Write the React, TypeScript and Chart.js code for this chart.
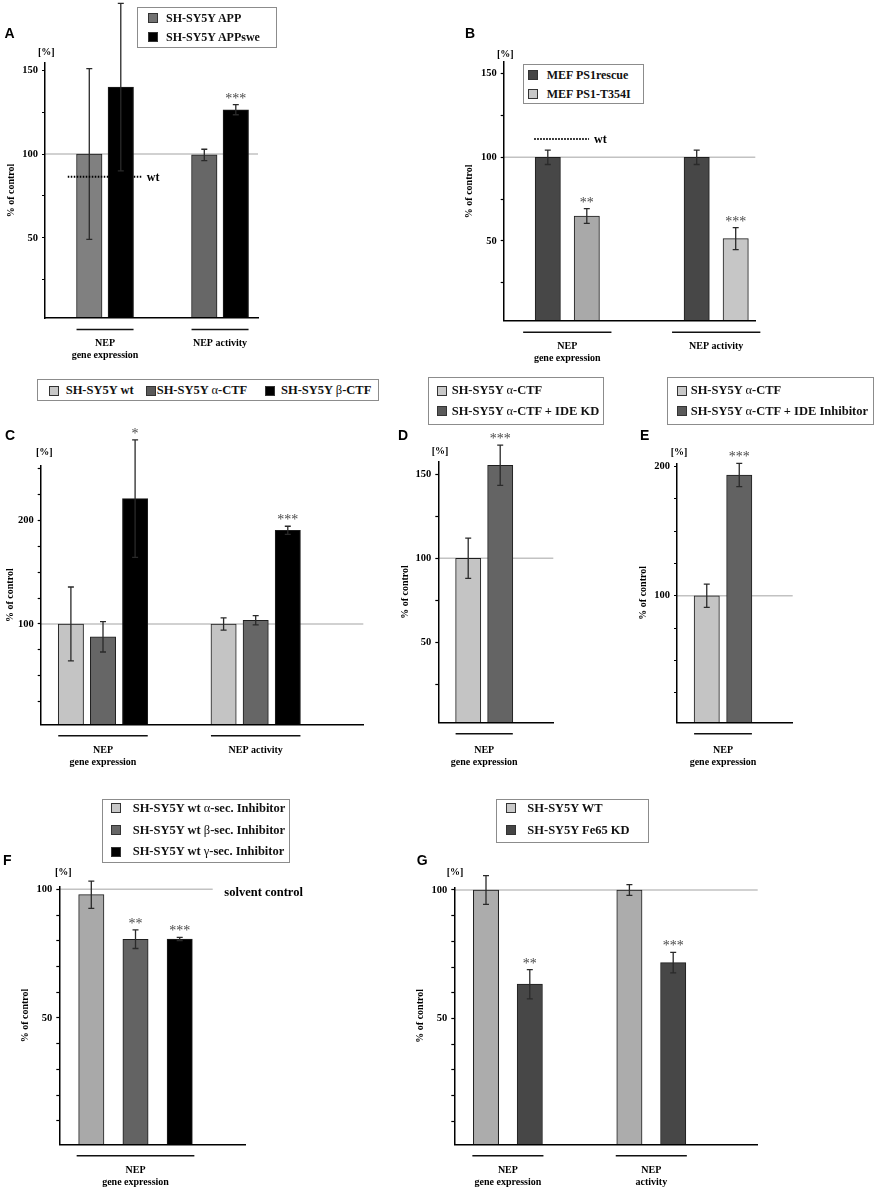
import React, { useEffect, useRef } from "react";
import { Chart, registerables } from "chart.js";
Chart.register(...registerables);

const SERIF = '"Liberation Serif", "Times New Roman", serif';
const SANS = '"Liberation Sans", Arial, sans-serif';
Chart.defaults.font.family = SERIF;

// ---------------- DATA ----------------
// Panel A
const A_CATEGORIES = [["NEP", "gene expression"], ["NEP activity"]];
const A_SERIES = ["SH-SY5Y APP", "SH-SY5Y APPswe"];
const A_APP = [100, 99.5];
const A_APP_ERR = [51, 3.4];
const A_APP_STARS = ["", ""];
const A_APPSWE = [140, 126.5];
const A_APPSWE_ERR = [50, 3];
const A_APPSWE_STARS = ["", "***"];
const A_Y_TICKS = [25, 50, 75, 100, 125, 150];
const A_Y_LABELS = [50, 100, 150];
const A_WT = 86.5;

// Panel B
const B_CATEGORIES = [["NEP", "gene expression"], ["NEP activity"]];
const B_SERIES = ["MEF PS1rescue", "MEF PS1-T354I"];
const B_RESCUE = [100, 100];
const B_RESCUE_ERR = [4.3, 4.3];
const B_RESCUE_STARS = ["", ""];
const B_T354I = [64.9, 51.4];
const B_T354I_ERR = [4.4, 6.6];
const B_T354I_STARS = ["**", "***"];
const B_Y_TICKS = [25, 50, 75, 100, 125, 150];
const B_Y_LABELS = [50, 100, 150];
const B_WT = 110.9;

// Panel C
const C_CATEGORIES = [["NEP", "gene expression"], ["NEP activity"]];
const C_SERIES = ["SH-SY5Y wt", "SH-SY5Y α-CTF", "SH-SY5Y β-CTF"];
const C_WT = [100, 100];
const C_WT_ERR = [35.8, 6];
const C_ACTF = [87.6, 103.6];
const C_ACTF_ERR = [14.7, 4.4];
const C_BCTF = [221.3, 190.7];
const C_BCTF_ERR = [56.8, 3.9];
const C_BCTF_STARS = ["*", "***"];
const C_Y_TICKS = [25, 50, 75, 100, 125, 150, 175, 200, 225, 250];
const C_Y_LABELS = [100, 200];

// Panel D
const D_CATEGORIES = [["NEP", "gene expression"]];
const D_SERIES = ["SH-SY5Y α-CTF", "SH-SY5Y α-CTF + IDE KD"];
const D_ACTF = [100];
const D_ACTF_ERR = [12];
const D_IDEKD = [155.4];
const D_IDEKD_ERR = [12];
const D_IDEKD_STARS = ["***"];
const D_Y_TICKS = [25, 50, 75, 100, 125, 150];
const D_Y_LABELS = [50, 100, 150];

// Panel E
const E_CATEGORIES = [["NEP", "gene expression"]];
const E_SERIES = ["SH-SY5Y α-CTF", "SH-SY5Y α-CTF + IDE Inhibitor"];
const E_ACTF = [100];
const E_ACTF_ERR = [9];
const E_IDEINH = [193.3];
const E_IDEINH_ERR = [9];
const E_IDEINH_STARS = ["***"];
const E_Y_TICKS = [25, 50, 75, 100, 125, 150, 175, 200];
const E_Y_LABELS = [100, 200];

// Panel F
const F_CATEGORIES = [["NEP", "gene expression"]];
const F_SERIES = ["SH-SY5Y wt α-sec. Inhibitor", "SH-SY5Y wt β-sec. Inhibitor", "SH-SY5Y wt γ-sec. Inhibitor"];
const F_ALPHA = [97.9];
const F_ALPHA_ERR = [5.3];
const F_BETA = [80.6];
const F_BETA_ERR = [3.6];
const F_BETA_STARS = ["**"];
const F_GAMMA = [80.7];
const F_GAMMA_ERR = [0.6];
const F_GAMMA_STARS = ["***"];
const F_Y_TICKS = [10, 20, 30, 40, 50, 60, 70, 80, 90, 100];
const F_Y_LABELS = [50, 100];
const F_REF_LABEL = "solvent control";

// Panel G
const G_CATEGORIES = [["NEP", "gene expression"], ["NEP", "activity"]];
const G_SERIES = ["SH-SY5Y WT", "SH-SY5Y Fe65 KD"];
const G_WT = [100, 100];
const G_WT_ERR = [5.6, 2.1];
const G_KD = [63.3, 71.7];
const G_KD_ERR = [5.7, 4];
const G_KD_STARS = ["**", "***"];
const G_Y_TICKS = [10, 20, 30, 40, 50, 60, 70, 80, 90, 100];
const G_Y_LABELS = [50, 100];

const REF_VALUE = 100;

// ---------------- TYPES ----------------
type Series = { label: string; values: number[]; errors: number[]; stars?: string[]; colors: string[]; swatch: string };
type LegendItem = { sx: number; sy: number; tx: number };
type Panel = {
  key: string;
  letter: string;
  letterPos: [number, number];
  pctPos: [number, number];
  categories: string[][];
  series: Series[];
  yTicks: number[];
  yLabels: number[];
  canvas: [number, number, number, number];
  area: { l: number; t: number; r: number; b: number };
  yRange: [number, number];
  xRange: [number, number];
  chunk: number;
  bar: number;
  titlePad: number;
  labelPad: number;
  ulPad: number;
  refEnd?: number;
  refLabel?: string;
  wt?: { value: number; x0: number; x1: number };
  legend: { box: [number, number, number, number]; font: number; items: LegendItem[] };
};

const mk = (label: string, values: number[], errors: number[], colors: string[], swatch: string, stars?: string[]): Series => ({
  label, values, errors, colors, swatch, stars,
});

// ---------------- PANELS (layout + styles) ----------------
const PANELS: Panel[] = [
  {
    key: "A", letter: "A", letterPos: [4.5, 26], pctPos: [38, 47],
    categories: A_CATEGORIES,
    series: [
      mk(A_SERIES[0], A_APP, A_APP_ERR, ["#808080", "#676767"], "#727272", A_APP_STARS),
      mk(A_SERIES[1], A_APPSWE, A_APPSWE_ERR, ["#000000", "#000000"], "#000000", A_APPSWE_STARS),
    ],
    yTicks: A_Y_TICKS, yLabels: A_Y_LABELS,
    canvas: [0, 0, 290, 370], area: { l: 45, t: 63, r: 258, b: 318 },
    yRange: [2.1, 154.4], xRange: [0.478, 2.330],
    chunk: 31.5, bar: 25.5, titlePad: 5, labelPad: 19.3, ulPad: 0,
    wt: { value: A_WT, x0: 0.676, x1: 1.319 },
    legend: { box: [137, 7, 140, 41], font: 12, items: [{ sx: 148, sy: 18.3, tx: 166 }, { sx: 148, sy: 37.3, tx: 166 }] },
  },
  {
    key: "B", letter: "B", letterPos: [465, 26], pctPos: [497, 49],
    categories: B_CATEGORIES,
    series: [
      mk(B_SERIES[0], B_RESCUE, B_RESCUE_ERR, ["#474747", "#474747"], "#454545", B_RESCUE_STARS),
      mk(B_SERIES[1], B_T354I, B_T354I_ERR, ["#a9a9a9", "#c6c6c6"], "#c8c8c8", B_T354I_STARS),
    ],
    yTicks: B_Y_TICKS, yLabels: B_Y_LABELS,
    canvas: [455, 0, 330, 375], area: { l: 503.7, t: 62, r: 755.3, b: 320.7 },
    yRange: [2.4, 156.9], xRange: [0.5729, 2.2626],
    chunk: 39, bar: 25.3, titlePad: 8.5, labelPad: 20, ulPad: 12,
    wt: { value: B_WT, x0: 0.778, x1: 1.146 },
    legend: { box: [523.3, 64.3, 121, 40], font: 12, items: [{ sx: 528.3, sy: 75, tx: 546.7 }, { sx: 528.3, sy: 94, tx: 546.7 }] },
  },
  {
    key: "C", letter: "C", letterPos: [5, 428], pctPos: [36, 447],
    categories: C_CATEGORIES,
    series: [
      mk(C_SERIES[0], C_WT, C_WT_ERR, ["#c4c4c4", "#c4c4c4"], "#c8c8c8"),
      mk(C_SERIES[1], C_ACTF, C_ACTF_ERR, ["#666666", "#666666"], "#5a5a5a"),
      mk(C_SERIES[2], C_BCTF, C_BCTF_ERR, ["#000000", "#000000"], "#000000", C_BCTF_STARS),
    ],
    yTicks: C_Y_TICKS, yLabels: C_Y_LABELS,
    canvas: [0, 425, 390, 345], area: { l: 40.7, t: 466, r: 363.3, b: 724.3 },
    yRange: [2.9, 252.9], xRange: [0.592, 2.7047],
    chunk: 32.1, bar: 25.3, titlePad: 4, labelPad: 20.4, ulPad: 0,
    legend: { box: [37.3, 379, 342, 22], font: 12.5, items: [{ sx: 49.3, sy: 390.5, tx: 65.7 }, { sx: 145.7, sy: 390.5, tx: 156.7 }, { sx: 265, sy: 390.5, tx: 281 }] },
  },
  {
    key: "D", letter: "D", letterPos: [398, 428], pctPos: [431.7, 446.3],
    categories: D_CATEGORIES,
    series: [
      mk(D_SERIES[0], D_ACTF, D_ACTF_ERR, ["#c4c4c4"], "#c8c8c8"),
      mk(D_SERIES[1], D_IDEKD, D_IDEKD_ERR, ["#646464"], "#5a5a5a", D_IDEKD_STARS),
    ],
    yTicks: D_Y_TICKS, yLabels: D_Y_LABELS,
    canvas: [392, 426, 180, 344], area: { l: 438.3, t: 461.7, r: 553.3, b: 722.3 },
    yRange: [2.4, 157.5], xRange: [0, 2.505],
    chunk: 32, bar: 25.2, titlePad: 7, labelPad: 21.7, ulPad: 0,
    legend: { box: [428.3, 377, 176, 48], font: 12.5, items: [{ sx: 437.3, sy: 390.7, tx: 451.7 }, { sx: 437.3, sy: 411, tx: 451.7 }] },
  },
  {
    key: "E", letter: "E", letterPos: [640, 428], pctPos: [670.7, 446.5],
    categories: E_CATEGORIES,
    series: [
      mk(E_SERIES[0], E_ACTF, E_ACTF_ERR, ["#c4c4c4"], "#c8c8c8"),
      mk(E_SERIES[1], E_IDEINH, E_IDEINH_ERR, ["#626262"], "#5a5a5a", E_IDEINH_STARS),
    ],
    yTicks: E_Y_TICKS, yLabels: E_Y_LABELS,
    canvas: [630, 426, 190, 344], area: { l: 677, t: 463.3, r: 792.7, b: 722.3 },
    yRange: [2.1, 202.4], xRange: [0, 2.515],
    chunk: 32.5, bar: 25.3, titlePad: 7.3, labelPad: 21.7, ulPad: 0,
    legend: { box: [667.3, 377, 206.7, 48], font: 12.5, items: [{ sx: 676.7, sy: 390.7, tx: 690.7 }, { sx: 676.7, sy: 411, tx: 690.7 }] },
  },
  {
    key: "F", letter: "F", letterPos: [3, 853], pctPos: [55, 867],
    categories: F_CATEGORIES,
    series: [
      mk(F_SERIES[0], F_ALPHA, F_ALPHA_ERR, ["#a9a9a9"], "#c8c8c8"),
      mk(F_SERIES[1], F_BETA, F_BETA_ERR, ["#636363"], "#666666", F_BETA_STARS),
      mk(F_SERIES[2], F_GAMMA, F_GAMMA_ERR, ["#000000"], "#000000", F_GAMMA_STARS),
    ],
    yTicks: F_Y_TICKS, yLabels: F_Y_LABELS,
    canvas: [0, 866, 320, 325], area: { l: 59.3, t: 886.7, r: 245.7, b: 1144.3 },
    yRange: [0.93, 101.0], xRange: [0, 2.446],
    chunk: 44.2, bar: 25.3, titlePad: 19, labelPad: 20.4, ulPad: 2,
    refEnd: 2.013, refLabel: F_REF_LABEL,
    legend: { box: [101.7, 799, 188.3, 64], font: 12.5, items: [{ sx: 111, sy: 808.3, tx: 132.7 }, { sx: 111, sy: 830, tx: 132.7 }, { sx: 111, sy: 851.7, tx: 132.7 }] },
  },
  {
    key: "G", letter: "G", letterPos: [416.7, 853], pctPos: [446.7, 867],
    categories: G_CATEGORIES,
    series: [
      mk(G_SERIES[0], G_WT, G_WT_ERR, ["#acacac", "#acacac"], "#c8c8c8"),
      mk(G_SERIES[1], G_KD, G_KD_ERR, ["#474747", "#474747"], "#454545", G_KD_STARS),
    ],
    yTicks: G_Y_TICKS, yLabels: G_Y_LABELS,
    canvas: [405, 866, 380, 325], area: { l: 454.3, t: 887.3, r: 757.7, b: 1144.3 },
    yRange: [0.93, 101.05], xRange: [0.6262, 2.742],
    chunk: 43.8, bar: 25.3, titlePad: 9.7, labelPad: 20.4, ulPad: 1,
    legend: { box: [495.7, 799, 153.6, 44], font: 12.5, items: [{ sx: 505.7, sy: 808.3, tx: 527.3 }, { sx: 505.7, sy: 830, tx: 527.3 }] },
  },
];

// ---------------- PLUGIN ----------------
function decorPlugin(p: Panel) {
  return {
    id: "decor" + p.key,
    beforeDatasetsDraw(chart: any) {
      const { ctx, chartArea, scales } = chart;
      const y = scales.y.getPixelForValue(REF_VALUE);
      const xEnd = p.refEnd != null ? scales.x.getPixelForValue(p.refEnd) : chartArea.right;
      ctx.save();
      ctx.strokeStyle = "#c2c2c2";
      ctx.lineWidth = 1.5;
      ctx.beginPath();
      ctx.moveTo(chartArea.left, y);
      ctx.lineTo(xEnd, y);
      ctx.stroke();
      if (p.refLabel) {
        ctx.fillStyle = "#000";
        ctx.font = `bold 12.5px ${SERIF}`;
        ctx.textBaseline = "middle";
        ctx.textAlign = "left";
        ctx.fillText(p.refLabel, xEnd + 11.6, y + 3);
      }
      ctx.restore();
    },
    afterDatasetsDraw(chart: any) {
      const { ctx, chartArea, scales } = chart;
      const ys = scales.y;
      ctx.save();
      // error bars and significance stars
      p.series.forEach((s, i) => {
        const meta = chart.getDatasetMeta(i);
        meta.data.forEach((el: any, j: number) => {
          const v = s.values[j];
          const e = s.errors[j];
          const x = el.x;
          const yt = ys.getPixelForValue(v + e);
          const yb = ys.getPixelForValue(v - e);
          ctx.strokeStyle = "#2a2a2a";
          ctx.lineWidth = 1.3;
          ctx.beginPath();
          ctx.moveTo(x, yt);
          ctx.lineTo(x, yb);
          ctx.moveTo(x - 3, yt);
          ctx.lineTo(x + 3, yt);
          ctx.moveTo(x - 3, yb);
          ctx.lineTo(x + 3, yb);
          ctx.stroke();
          const star = s.stars ? s.stars[j] : "";
          if (star) {
            ctx.fillStyle = "#4a4a4a";
            ctx.font = `14px ${SERIF}`;
            ctx.textAlign = "center";
            ctx.textBaseline = "alphabetic";
            ctx.fillText(star, x, yt - 2);
          }
        });
      });
      // group underlines
      p.categories.forEach((_, j) => {
        let lo = Infinity;
        let hi = -Infinity;
        p.series.forEach((__, i) => {
          const el: any = chart.getDatasetMeta(i).data[j];
          if (!el) return;
          lo = Math.min(lo, el.x - el.width / 2);
          hi = Math.max(hi, el.x + el.width / 2);
        });
        const yy = chartArea.bottom + 11.5;
        ctx.strokeStyle = "#111";
        ctx.lineWidth = 1.5;
        ctx.beginPath();
        ctx.moveTo(lo - p.ulPad, yy);
        ctx.lineTo(hi + p.ulPad, yy);
        ctx.stroke();
      });
      // wt dotted line
      if (p.wt) {
        const yy = ys.getPixelForValue(p.wt.value);
        const x0 = scales.x.getPixelForValue(p.wt.x0);
        const x1 = scales.x.getPixelForValue(p.wt.x1);
        ctx.strokeStyle = "#000";
        ctx.lineWidth = 2;
        ctx.setLineDash([1.5, 1.5]);
        ctx.beginPath();
        ctx.moveTo(x0, yy);
        ctx.lineTo(x1, yy);
        ctx.stroke();
        ctx.setLineDash([]);
        ctx.fillStyle = "#000";
        ctx.font = `bold 12px ${SERIF}`;
        ctx.textAlign = "left";
        ctx.textBaseline = "middle";
        ctx.fillText("wt", x1 + 5, yy + 1);
      }
      ctx.restore();
    },
  };
}

// ---------------- COMPONENTS ----------------
function PanelChart({ p }: { p: Panel }) {
  const ref = useRef<HTMLCanvasElement>(null);
  const [cx, cy, cw, ch] = p.canvas;
  useEffect(() => {
    if (!ref.current) return;
    const chart = new Chart(ref.current, {
      type: "bar",
      data: {
        datasets: p.series.map((s) => ({
          label: s.label,
          data: s.values.map((v, j) => ({ x: j + 1, y: v })),
          backgroundColor: s.colors,
          borderColor: "#1e1e1e",
          borderWidth: 1,
          barThickness: p.chunk,
          maxBarThickness: p.bar,
        })),
      } as any,
      options: {
        responsive: false,
        maintainAspectRatio: false,
        animation: false,
        events: [],
        layout: { padding: { top: p.area.t - cy, right: cx + cw - p.area.r, left: 0, bottom: 0 } },
        plugins: { legend: { display: false }, tooltip: { enabled: false }, title: { display: false } },
        scales: {
          x: {
            type: "linear",
            min: p.xRange[0],
            max: p.xRange[1],
            bounds: "data",
            offset: false,
            afterBuildTicks: (s: any) => {
              s.ticks = p.categories.map((_, i) => ({ value: i + 1 }));
            },
            afterFit: (s: any) => {
              s.height = cy + ch - p.area.b;
            },
            ticks: {
              autoSkip: false,
              maxRotation: 0,
              minRotation: 0,
              padding: p.labelPad,
              color: "#000",
              font: { size: 10, weight: "bold", lineHeight: 1.2 },
              callback: (v: any) => p.categories[Math.round(Number(v)) - 1] || "",
            },
            grid: { display: false, drawTicks: false, offset: false },
            border: { display: true, color: "#000", width: 1.5, z: 1 },
          },
          y: {
            type: "linear",
            min: p.yRange[0],
            max: p.yRange[1],
            bounds: "data",
            afterBuildTicks: (s: any) => {
              s.ticks = p.yTicks.map((v) => ({ value: v }));
            },
            afterFit: (s: any) => {
              s.width = p.area.l - cx;
            },
            ticks: {
              autoSkip: false,
              padding: 4,
              color: "#000",
              font: { size: 10.5, weight: "bold" },
              callback: (v: any) => (p.yLabels.includes(Number(v)) ? String(v) : ""),
            },
            grid: { display: true, drawOnChartArea: false, drawTicks: true, tickLength: 3, tickColor: "#000", tickWidth: 1.2 },
            border: { display: true, color: "#000", width: 1.5, z: 1 },
            title: {
              display: true,
              text: "% of control",
              color: "#000",
              font: { size: 10, weight: "bold", lineHeight: 1.2 },
              padding: { top: p.titlePad, bottom: 0 },
            },
          },
        },
      } as any,
      plugins: [decorPlugin(p)],
    });
    return () => chart.destroy();
  }, [p]);
  return (
    <canvas
      ref={ref}
      width={cw}
      height={ch}
      style={{ position: "absolute", left: cx, top: cy, width: cw, height: ch }}
    />
  );
}

function greek(text: string) {
  return text.split(/([αβγ])/).map((part, i) =>
    /[αβγ]/.test(part) ? (
      <span key={i} style={{ fontWeight: "normal" }}>{part}</span>
    ) : (
      <span key={i}>{part}</span>
    )
  );
}

function Overlay({ p }: { p: Panel }) {
  const [bx, by, bw, bh] = p.legend.box;
  const f = p.legend.font;
  return (
    <>
      <div style={{ position: "absolute", left: p.letterPos[0], top: p.letterPos[1], fontFamily: SANS, fontWeight: "bold", fontSize: 14, lineHeight: "14px", color: "#000" }}>
        {p.letter}
      </div>
      <div style={{ position: "absolute", left: p.pctPos[0], top: p.pctPos[1], fontFamily: SERIF, fontWeight: "bold", fontSize: 10, lineHeight: "10px", color: "#000" }}>
        [%]
      </div>
      <div style={{ position: "absolute", left: bx, top: by, width: bw, height: bh, border: "1px solid #8c8c8c", background: "#fff", boxSizing: "border-box" }} />
      {p.legend.items.map((it, i) => (
        <React.Fragment key={i}>
          <div style={{ position: "absolute", left: it.sx, top: it.sy - 5, width: 10, height: 10, background: p.series[i].swatch, border: "1px solid #333", boxSizing: "border-box" }} />
          <div style={{ position: "absolute", left: it.tx, top: it.sy - 0.506 * f, fontFamily: SERIF, fontWeight: "bold", fontSize: f, lineHeight: f + "px", whiteSpace: "nowrap", color: "#111" }}>
            {greek(p.series[i].label)}
          </div>
        </React.Fragment>
      ))}
    </>
  );
}

export default function App() {
  return (
    <div style={{ position: "absolute", left: 0, top: 0, width: 877, height: 1191, overflow: "hidden", background: "#fff" }}>
      {PANELS.map((p) => (
        <PanelChart key={p.key} p={p} />
      ))}
      {PANELS.map((p) => (
        <Overlay key={"o" + p.key} p={p} />
      ))}
    </div>
  );
}
